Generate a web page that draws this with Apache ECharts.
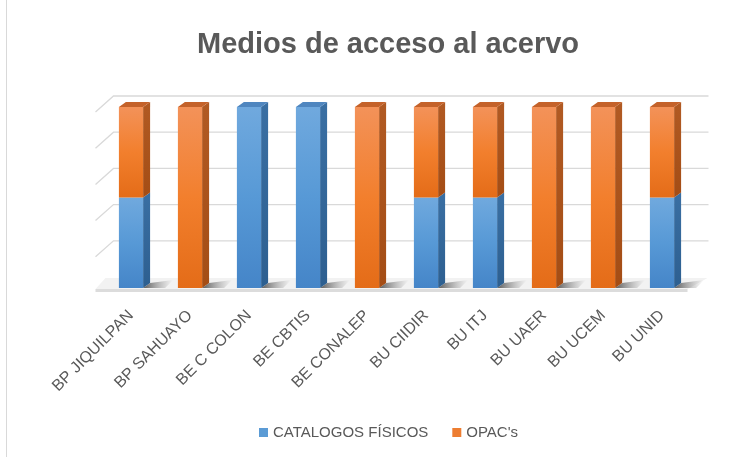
<!DOCTYPE html>
<html>
<head>
<meta charset="utf-8">
<script src="https://cdn.jsdelivr.net/npm/echarts@6/dist/echarts.min.js"></script>
<style>
  html, body { margin: 0; padding: 0; background: #fff; }
  #chart { width: 751px; height: 457px; }
</style>
</head>
<body>
<div id="chart"></div>
<script>
const categories = ['BP JIQUILPAN', 'BP SAHUAYO', 'BE C COLON', 'BE CBTIS', 'BE CONALEP', 'BU CIIDIR', 'BU ITJ', 'BU UAER', 'BU UCEM', 'BU UNID']
const catalogos = [1, 0, 1, 1, 0, 1, 1, 0, 0, 1]
const opacs = [1, 1, 0, 0, 1, 1, 1, 1, 1, 1]
const gridTicks = [0, 20, 40, 60, 80, 100]

// 100% stacked: share of each medium per library
const blueSegs = []
const orangeSegs = []
categories.forEach((_, i) => {
  const total = catalogos[i] + opacs[i]
  const b = total ? (catalogos[i] / total) * 100 : 0
  if (b > 0) blueSegs.push([i, 0, b, opacs[i] === 0 ? 1 : 0])
  if (b < 100) orangeSegs.push([i, b, 100, 1])
})

const DX = 7
const DY = -5

function gradient(stops) {
  return new echarts.graphic.LinearGradient(0, 0, 0, 1, stops.map((c, k) => ({ offset: k / (stops.length - 1), color: c })))
}

const palette = {
  blue: {
    front: ['#70a9de', '#5799d6', '#4585c8'],
    side: ['#3a6fa3', '#2d5f90'],
    top: '#4f86bf',
  },
  orange: {
    front: ['#f39259', '#f27f2d', '#e46c18'],
    side: ['#b15a23', '#a44d15'],
    top: '#c4622a',
  },
}

function barRenderer(colors) {
  return function (params, api) {
    const idx = api.value(0)
    const start = api.value(1)
    const end = api.value(2)
    const isTop = api.value(3)
    const p0 = api.coord([idx, start])
    const p1 = api.coord([idx, end])
    const w = api.size([1, 0])[0] * 0.41
    const x0 = p0[0] - w / 2
    const x1 = x0 + w
    const yb = p0[1]
    const yt = p1[1]
    const children = []
    if (start === 0) {
      children.push({
        type: 'polygon',
        shape: { points: [[x1, yb], [x1 + DX, yb + DY], [x1 + 30, yb - 8], [x1 + 22, yb]] },
        style: { fill: new echarts.graphic.LinearGradient(0, 0, 1, 0, [
          { offset: 0, color: 'rgba(40,40,40,0.75)' },
          { offset: 1, color: 'rgba(120,120,120,0)' },
        ]) },
      })
    }
    children.push({
      type: 'polygon',
      shape: { points: [[x1, yb], [x1 + DX, yb + DY], [x1 + DX, yt + DY], [x1, yt]] },
      style: { fill: gradient(colors.side) },
    })
    children.push({
      type: 'rect',
      shape: { x: x0, y: yt, width: w, height: yb - yt },
      style: { fill: gradient(colors.front) },
    })
    if (isTop) {
      children.push({
        type: 'polygon',
        shape: { points: [[x0, yt], [x0 + DX, yt + DY], [x1 + DX, yt + DY], [x1, yt]] },
        style: { fill: colors.top },
      })
    }
    return { type: 'group', children }
  }
}

function wallRenderer(params, api) {
  const v = api.value(0)
  const cs = params.coordSys
  const y = api.coord([0, v])[1]
  const left = cs.x
  const right = cs.x + cs.width
  if (v === 0) {
    return {
      type: 'group',
      children: [
        { type: 'polygon', shape: { points: [[left + 4, y - 10], [right + 16, y - 10], [right - 4, y + 1], [left - 6, y + 1]] }, style: { fill: '#f2f2f2' } },
        { type: 'polygon', shape: { points: [[left - 6, y + 1], [right - 4, y + 1], [right - 4, y + 4], [left - 6, y + 4]] }, style: { fill: '#dcdcdc' } },
      ],
    }
  }
  return {
    type: 'polyline',
    shape: { points: [[left - 6, y + 5], [left + 12, y - 11], [right + 17, y - 11]] },
    style: { stroke: '#d9d9d9', lineWidth: 1.3, fill: null },
  }
}

const chart = echarts.init(document.getElementById('chart'))
chart.setOption({
  animation: false,
  title: {
    text: 'Medios de acceso al acervo',
    left: 192,
    top: 25,
    textStyle: { fontFamily: 'Liberation Sans', fontWeight: 'bold', fontSize: 29, color: '#595959' },
  },
  legend: {
    left: 254,
    top: 420,
    itemWidth: 9,
    itemHeight: 9,
    itemGap: 24,
    icon: 'rect',
    textStyle: { fontFamily: 'Liberation Sans', fontSize: 15, color: '#595959' },
    data: ['CATALOGOS FÍSICOS', "OPAC's"],
  },
  graphic: [
    { type: 'line', shape: { x1: 6.5, y1: 0, x2: 6.5, y2: 457 }, style: { stroke: '#d9d9d9', lineWidth: 1 } },
  ],
  grid: { left: 101.5, right: 59.5, top: 107, bottom: 169 },
  xAxis: {
    type: 'category',
    data: categories,
    axisLine: { show: false },
    axisTick: { show: false },
    axisLabel: { rotate: 45, margin: 25, interval: 0, fontFamily: 'Liberation Sans', fontSize: 16, color: '#595959' },
  },
  yAxis: {
    type: 'value',
    min: 0,
    max: 100,
    interval: 20,
    axisLabel: { show: false },
    axisLine: { show: false },
    axisTick: { show: false },
    splitLine: { show: false },
  },
  series: [
    {
      type: 'custom',
      silent: true,
      renderItem: wallRenderer,
      encode: { y: 0 },
      data: gridTicks.map((v) => [v]),
      z: 1,
    },
    {
      name: 'CATALOGOS FÍSICOS',
      type: 'custom',
      renderItem: barRenderer(palette.blue),
      itemStyle: { color: '#5b9bd5' },
      encode: { x: 0, y: [1, 2] },
      data: blueSegs,
      z: 2,
    },
    {
      name: "OPAC's",
      type: 'custom',
      renderItem: barRenderer(palette.orange),
      itemStyle: { color: '#ed7d31' },
      encode: { x: 0, y: [1, 2] },
      data: orangeSegs,
      z: 3,
    },
  ],
})
</script>
</body>
</html>
